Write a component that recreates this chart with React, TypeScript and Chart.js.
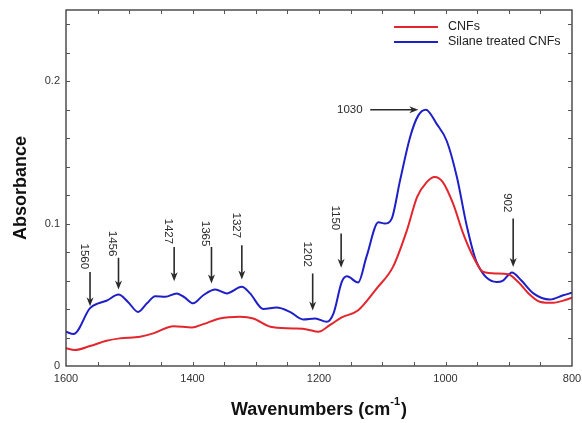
import React, { useEffect, useRef } from "react";
import { Chart, registerables } from "chart.js";

Chart.register(...registerables);

const FONT = "'Liberation Sans', Arial, sans-serif";

// CNFs (red)
const cnfX = [1600, 1586, 1562, 1536, 1515, 1483, 1462, 1430, 1401, 1383, 1357, 1325, 1304, 1277, 1241, 1219, 1201, 1183, 1164, 1138, 1109, 1083, 1061, 1045, 1030, 1017, 1004, 988, 972, 956, 940, 919, 901, 885, 866, 850, 830, 808, 800];
const cnfY = [0.0124, 0.0112, 0.014, 0.0177, 0.0194, 0.0206, 0.0229, 0.028, 0.027, 0.0294, 0.0334, 0.0346, 0.0334, 0.0276, 0.0264, 0.0257, 0.024, 0.0287, 0.0341, 0.0392, 0.0544, 0.0696, 0.0953, 0.1186, 0.129, 0.1327, 0.129, 0.114, 0.093, 0.0766, 0.066, 0.065, 0.0645, 0.059, 0.0498, 0.045, 0.0444, 0.0467, 0.048];

// Silane treated CNFs (blue)
const silX = [1600, 1588, 1562, 1549, 1536, 1517, 1502, 1486, 1472, 1459, 1443, 1425, 1412, 1399, 1383, 1364, 1346, 1322, 1309, 1288, 1267, 1246, 1225, 1206, 1188, 1177, 1164, 1156, 1138, 1125, 1106, 1096, 1085, 1072, 1056, 1043, 1031, 1014, 998, 982, 966, 951, 919, 909, 895, 880, 861, 835, 814, 800];
const silY = [0.024, 0.0224, 0.0406, 0.044, 0.0458, 0.0502, 0.045, 0.038, 0.044, 0.049, 0.0486, 0.051, 0.048, 0.044, 0.0497, 0.0537, 0.051, 0.0556, 0.051, 0.040, 0.041, 0.038, 0.0327, 0.0334, 0.031, 0.037, 0.059, 0.063, 0.0587, 0.0766, 0.101, 0.100, 0.1035, 0.130, 0.1607, 0.176, 0.180, 0.170, 0.158, 0.1327, 0.0976, 0.0731, 0.059, 0.060, 0.0657, 0.060, 0.051, 0.0467, 0.0497, 0.0514];

// Vertical peak annotations
const peakLabels = ["1560", "1456", "1427", "1365", "1327", "1202", "1150", "902"];
const peakX = [1562, 1517, 1429, 1370, 1322, 1210, 1165, 893];
const arrowTop = [0.066, 0.076, 0.0836, 0.0836, 0.0848, 0.065, 0.093, 0.1035];
const arrowTip = [0.042, 0.0537, 0.0596, 0.058, 0.0607, 0.039, 0.069, 0.0696];
const labelY = [0.077, 0.086, 0.0946, 0.093, 0.0988, 0.0785, 0.104, 0.1146];

// Horizontal annotation
const hLabel = "1030";
const hFrom = 1119;
const hTo = 1043;
const hY = 0.18;
const hLabelX = 1131;

const xTicks = [1600, 1400, 1200, 1000, 800];
const yTicks = [0, 0.1, 0.2];

const seriesNames = ["CNFs", "Silane treated CNFs"];
const seriesColors = ["#e3262e", "#1f1fc8"];

function toPts(xs: number[], ys: number[]) {
  return xs.map((x, i) => ({ x, y: ys[i] }));
}

function arrowHead(ctx: CanvasRenderingContext2D, x: number, y: number, dx: number, dy: number) {
  const len = 9;
  const hw = 3.5;
  const px = -dy, py = dx;
  ctx.beginPath();
  ctx.moveTo(x, y);
  ctx.lineTo(x - dx * len + px * hw, y - dy * len + py * hw);
  ctx.lineTo(x - dx * len * 0.7, y - dy * len * 0.7);
  ctx.lineTo(x - dx * len - px * hw, y - dy * len - py * hw);
  ctx.closePath();
  ctx.fill();
}

const decorPlugin = {
  id: "decor",
  afterDraw(chart: any) {
    const ctx: CanvasRenderingContext2D = chart.ctx;
    const xs = chart.scales.x;
    const ys = chart.scales.y;
    const { left, right, top, bottom } = chart.chartArea;
    ctx.save();
    // frame
    ctx.strokeStyle = "#333";
    ctx.lineWidth = 1.3;
    ctx.strokeRect(left, top, right - left, bottom - top);
    // minor ticks
    ctx.lineWidth = 1;
    ctx.strokeStyle = "#555";
    ctx.beginPath();
    for (let v = 850; v < 1600; v += 50) {
      const px = Math.round(xs.getPixelForValue(v)) + 0.5;
      ctx.moveTo(px, bottom);
      ctx.lineTo(px, bottom - 4);
      ctx.moveTo(px, top);
      ctx.lineTo(px, top + 4);
    }
    for (let k = 1; k <= 12; k++) {
      const py = Math.round(ys.getPixelForValue(k * 0.02)) + 0.5;
      ctx.moveTo(left, py);
      ctx.lineTo(left + 4, py);
      ctx.moveTo(right, py);
      ctx.lineTo(right - 4, py);
    }
    ctx.stroke();

    // annotations
    ctx.strokeStyle = "#2a2a2a";
    ctx.fillStyle = "#2a2a2a";
    ctx.lineWidth = 1.6;
    ctx.font = `11.5px ${FONT}`;
    peakLabels.forEach((lab, i) => {
      const px = xs.getPixelForValue(peakX[i]);
      const y1 = ys.getPixelForValue(arrowTop[i]);
      const y2 = ys.getPixelForValue(arrowTip[i]);
      ctx.beginPath();
      ctx.moveTo(px, y1);
      ctx.lineTo(px, y2 - 6);
      ctx.stroke();
      arrowHead(ctx, px, y2, 0, 1);
      const ly = ys.getPixelForValue(labelY[i]);
      ctx.save();
      ctx.translate(px - 6, ly);
      ctx.rotate(Math.PI / 2);
      ctx.textAlign = "center";
      ctx.textBaseline = "middle";
      ctx.fillText(lab, 0, 0);
      ctx.restore();
    });
    {
      const x1 = xs.getPixelForValue(hFrom);
      const x2 = xs.getPixelForValue(hTo);
      const py = ys.getPixelForValue(hY);
      ctx.beginPath();
      ctx.moveTo(x1, py);
      ctx.lineTo(x2 - 6, py);
      ctx.stroke();
      arrowHead(ctx, x2, py, 1, 0);
      ctx.textAlign = "right";
      ctx.textBaseline = "middle";
      ctx.fillText(hLabel, xs.getPixelForValue(hLabelX), py);
    }

    // legend
    ctx.font = `12.5px ${FONT}`;
    ctx.textAlign = "left";
    ctx.textBaseline = "middle";
    seriesNames.forEach((name, i) => {
      const ly = 27 + i * 15;
      ctx.strokeStyle = seriesColors[i];
      ctx.lineWidth = 2;
      ctx.beginPath();
      ctx.moveTo(394, ly);
      ctx.lineTo(438, ly);
      ctx.stroke();
      ctx.fillStyle = "#222";
      ctx.fillText(name, 448, ly);
    });

    // axis titles
    ctx.fillStyle = "#111";
    ctx.font = `bold 18px ${FONT}`;
    ctx.save();
    ctx.translate(21, (top + bottom) / 2);
    ctx.rotate(-Math.PI / 2);
    ctx.textAlign = "center";
    ctx.textBaseline = "middle";
    ctx.fillText("Absorbance", 0, 0);
    ctx.restore();

    const main = "Wavenumbers (cm";
    const sup = "-1";
    const tail = ")";
    ctx.font = `bold 18px ${FONT}`;
    const wMain = ctx.measureText(main).width;
    const wTail = ctx.measureText(tail).width;
    ctx.font = `bold 11px ${FONT}`;
    const wSup = ctx.measureText(sup).width;
    const total = wMain + wSup + wTail + 1;
    const x0 = (left + right) / 2 - total / 2;
    const ty = 410;
    ctx.textAlign = "left";
    ctx.textBaseline = "middle";
    ctx.font = `bold 18px ${FONT}`;
    ctx.fillText(main, x0, ty);
    ctx.font = `bold 11px ${FONT}`;
    ctx.fillText(sup, x0 + wMain, ty - 8);
    ctx.font = `bold 18px ${FONT}`;
    ctx.fillText(tail, x0 + wMain + wSup + 1, ty);
    ctx.restore();
  },
};

export default function App() {
  const ref = useRef<HTMLCanvasElement | null>(null);
  useEffect(() => {
    if (!ref.current) return;
    const chart = new Chart(ref.current, {
      type: "line",
      data: {
        datasets: [
          {
            label: seriesNames[0],
            data: toPts(cnfX, cnfY),
            borderColor: seriesColors[0],
            borderWidth: 2,
            pointRadius: 0,
            tension: 0.4,
            cubicInterpolationMode: "monotone",
            fill: false,
          },
          {
            label: seriesNames[1],
            data: toPts(silX, silY),
            borderColor: seriesColors[1],
            borderWidth: 2,
            pointRadius: 0,
            tension: 0.4,
            cubicInterpolationMode: "monotone",
            fill: false,
          },
        ],
      },
      options: {
        animation: false,
        responsive: false,
        layout: { padding: { top: 10, right: 10, left: 0, bottom: 0 } },
        plugins: { legend: { display: false }, tooltip: { enabled: false } },
        scales: {
          x: {
            type: "linear",
            reverse: true,
            min: 800,
            max: 1600,
            grid: { display: false, drawTicks: false },
            border: { display: false },
            afterBuildTicks: (s: any) => {
              s.ticks = xTicks.map((v) => ({ value: v }));
            },
            afterFit: (s: any) => {
              s.height = 57;
              s.paddingLeft = 0;
              s.paddingRight = 0;
            },
            ticks: {
              padding: 6,
              maxRotation: 0,
              color: "#333",
              font: { family: FONT, size: 11 },
              callback: (v: any) => String(v),
            },
          },
          y: {
            type: "linear",
            min: 0,
            max: 0.25,
            grid: { display: false, drawTicks: false },
            border: { display: false },
            afterBuildTicks: (s: any) => {
              s.ticks = yTicks.map((v) => ({ value: v }));
            },
            afterFit: (s: any) => {
              s.width = 66;
              s.paddingTop = 0;
              s.paddingBottom = 0;
            },
            ticks: {
              padding: 6,
              color: "#333",
              font: { family: FONT, size: 11 },
              callback: (v: any) => (v === 0 ? "0" : Number(v).toFixed(1)),
            },
          },
        },
      } as any,
      plugins: [decorPlugin],
    });
    return () => chart.destroy();
  }, []);
  return (
    <div style={{ position: "absolute", left: 0, top: 0, width: 582, height: 423, background: "#fff" }}>
      <canvas ref={ref} width={582} height={423} style={{ display: "block" }} />
    </div>
  );
}
